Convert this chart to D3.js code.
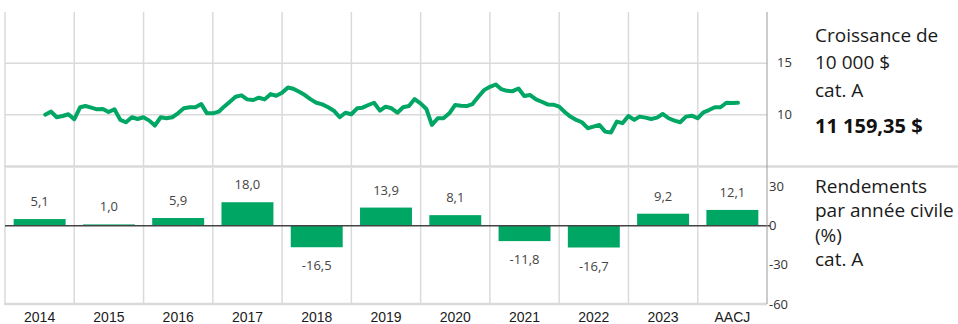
<!DOCTYPE html>
<html lang="fr">
<head>
<meta charset="utf-8">
<script src="https://cdn.jsdelivr.net/npm/d3@7"></script>
<style>
  html, body { margin: 0; padding: 0; background: #fff; }
  svg { display: block; }
</style>
</head>
<body>
<svg id="chart" width="958" height="324"></svg>
<script>
// Calendar-year categories and annual returns (%)
const years = ["2014", "2015", "2016", "2017", "2018", "2019", "2020", "2021", "2022", "2023", "AACJ"];
const returns = [5.1, 1.0, 5.9, 18.0, -16.5, 13.9, 8.1, -11.8, -16.7, 9.2, 12.1];

// Growth of 10 000 $ (in thousands), month-end values from July 2014
const growthStart = new Date(2014, 7, 1);
const growth = [
  10.0, 10.3, 9.75, 9.87, 10.04, 9.55, 10.72, 10.84, 10.68, 10.52, 10.55, 10.26,
  10.52, 9.49, 9.26, 9.75, 9.58, 9.75, 9.42, 8.94, 9.75, 9.65, 9.75, 10.13,
  10.62, 10.72, 10.72, 11.03, 10.13, 10.13, 10.29, 10.78, 11.26, 11.74, 11.88, 11.49,
  11.42, 11.65, 11.49, 12.0, 11.84, 12.13, 12.65, 12.52, 12.23, 11.91, 11.49, 11.16,
  11.0, 10.72, 10.39, 9.75, 10.19, 10.04, 10.62, 10.68, 10.94, 11.16, 10.39, 10.78,
  10.62, 10.19, 10.72, 10.84, 11.52, 11.10, 10.55, 9.0, 9.65, 9.65, 10.13, 10.94,
  10.87, 10.84, 11.03, 11.74, 12.39, 12.71, 12.94, 12.49, 12.32, 12.29, 12.55, 11.81,
  11.91, 11.49, 11.26, 11.0, 10.97, 10.78, 10.23, 9.81, 9.49, 9.26, 8.68, 8.84,
  9.0, 8.35, 8.26, 9.32, 9.17, 9.87, 9.49, 9.81, 9.71, 9.58, 9.71, 10.07,
  9.65, 9.42, 9.26, 9.81, 9.90, 9.65, 10.23, 10.45, 10.72, 10.72, 11.16, 11.13,
  11.159
];

const growthTicks = [10, 15];
const returnTicks = [30, 0, -30, -60];

const growthTitle = ["Croissance de", "10 000 $", "cat. A"];
const growthValueLabel = "11 159,35 $";
const returnsTitle = ["Rendements", "par année civile", "(%)", "cat. A"];

const GREEN = "#00a664";
const GRID = "#dadada";
const FONT = "'Open Sans', 'Noto Sans', sans-serif";

const svg = d3.select("#chart");

const left = 5, right = 767;
const top1 = 12, bottom1 = 166;
const top2 = 167, bottom2 = 304;

const fr = d3.formatLocale({ decimal: ",", thousands: " ", grouping: [3], currency: ["", " $"], minus: "-" });
const fmt1 = fr.format(".1f");

// Scales
const xBand = d3.scaleBand().domain(years).range([left, right])
  .paddingInner(0.25).paddingOuter(0.125);
const xTime = d3.scaleTime()
  .domain([new Date(2014, 0, 1), new Date(2025, 0, 1)])
  .range([left, right]);
const yGrowth = d3.scaleLinear().domain([5, 20]).range([bottom1, top1]);
const yRet = d3.scaleLinear().domain([-60, 45]).range([bottom2, top2]);

const step = xBand.step();
const boundaries = d3.range(years.length + 1).map(i => left + i * step);

// ---------- Growth panel ----------
const g1 = svg.append("g");
g1.selectAll("line.v").data(boundaries.slice(0, -1)).join("line")
  .attr("x1", d => d).attr("x2", d => d)
  .attr("y1", top1).attr("y2", bottom1)
  .attr("stroke", GRID).attr("stroke-width", 1.5);
g1.selectAll("line.h").data(growthTicks).join("line")
  .attr("x1", left).attr("x2", right)
  .attr("y1", d => yGrowth(d)).attr("y2", d => yGrowth(d))
  .attr("stroke", GRID).attr("stroke-width", 1.5);

const line = d3.line()
  .x((d, i) => xTime(d3.timeMonth.offset(growthStart, i)))
  .y(d => yGrowth(d));
g1.append("path").datum(growth)
  .attr("d", line)
  .attr("fill", "none")
  .attr("stroke", GREEN)
  .attr("stroke-width", 4)
  .attr("stroke-linejoin", "round")
  .attr("stroke-linecap", "round");

g1.selectAll("text.tick").data(growthTicks).join("text")
  .attr("x", right + 10).attr("y", d => yGrowth(d) + 4)
  .attr("font-family", FONT).attr("font-size", 13).attr("fill", "#333")
  .text(d => d);

// Separator between the two panels
svg.append("line")
  .attr("x1", left - 1).attr("x2", 958)
  .attr("y1", (bottom1 + top2) / 2).attr("y2", (bottom1 + top2) / 2)
  .attr("stroke", GRID).attr("stroke-width", 2.5);

// ---------- Returns panel ----------
const g2 = svg.append("g");
g2.selectAll("line.v").data(boundaries.slice(0, -1)).join("line")
  .attr("x1", d => d).attr("x2", d => d)
  .attr("y1", top2 + 1).attr("y2", bottom2)
  .attr("stroke", GRID).attr("stroke-width", 1.5);
g2.append("line")
  .attr("x1", left - 1).attr("x2", right)
  .attr("y1", bottom2).attr("y2", bottom2)
  .attr("stroke", GRID).attr("stroke-width", 2.5);

g2.selectAll("rect").data(years).join("rect")
  .attr("x", d => xBand(d))
  .attr("width", xBand.bandwidth())
  .attr("y", (d, i) => yRet(Math.max(0, returns[i])))
  .attr("height", (d, i) => Math.abs(yRet(returns[i]) - yRet(0)))
  .attr("fill", GREEN);

g2.append("line")
  .attr("x1", left).attr("x2", right + 3)
  .attr("y1", yRet(0)).attr("y2", yRet(0))
  .attr("stroke", "#444").attr("stroke-width", 1.5);

g2.selectAll("text.val").data(years).join("text")
  .attr("x", d => xBand(d) + xBand.bandwidth() / 2)
  .attr("y", (d, i) => returns[i] >= 0 ? yRet(returns[i]) - 13 : yRet(returns[i]) + 23)
  .attr("text-anchor", "middle")
  .attr("font-family", FONT).attr("font-size", 13).attr("fill", "#444")
  .text((d, i) => fmt1(returns[i]));

g2.selectAll("text.tick").data(returnTicks).join("text")
  .attr("x", right + 2).attr("y", d => yRet(d) + 4.5)
  .attr("font-family", FONT).attr("font-size", 13).attr("fill", "#333")
  .text(d => d);

// Category labels
svg.selectAll("text.year").data(years).join("text")
  .attr("x", d => xBand(d) + xBand.bandwidth() / 2)
  .attr("y", 321.5)
  .attr("text-anchor", "middle")
  .attr("font-family", "'Liberation Sans Narrow', 'Liberation Sans', Arial, sans-serif")
  .attr("font-size", 14).attr("fill", "#1a1a1a")
  .text(d => d);

// Right-hand value axis line
svg.append("line")
  .attr("x1", right).attr("x2", right)
  .attr("y1", top1).attr("y2", bottom2)
  .attr("stroke", "#9a9a9a").attr("stroke-width", 1);

// ---------- Side legends ----------
const legendX = 815;
svg.selectAll("text.gt").data(growthTitle).join("text")
  .attr("x", legendX).attr("y", (d, i) => 41.5 + i * 27.6)
  .attr("font-family", FONT).attr("font-size", 19).attr("fill", "#1a1a1a")
  .text(d => d);
svg.append("text")
  .attr("x", legendX).attr("y", 132.5)
  .attr("font-family", FONT).attr("font-size", 20).attr("font-weight", "bold").attr("fill", "#111")
  .text(growthValueLabel);
svg.selectAll("text.rt").data(returnsTitle).join("text")
  .attr("x", legendX).attr("y", (d, i) => 192.5 + i * 24.6)
  .attr("font-family", FONT).attr("font-size", 19).attr("fill", "#1a1a1a")
  .text(d => d);
</script>
</body>
</html>
